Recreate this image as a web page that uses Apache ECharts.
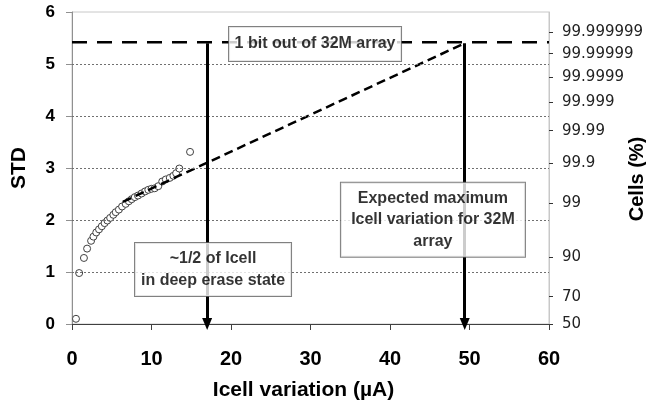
<!DOCTYPE html>
<html>
<head>
<meta charset="utf-8">
<script src="https://cdn.jsdelivr.net/npm/echarts@6/dist/echarts.min.js"></script>
<style>html,body{margin:0;padding:0;background:#fff}#c{width:646px;height:404px}</style>
</head>
<body>
<div id="c"></div>
<script>
// measured data: Icell variation (uA) vs STD
const icell = [0.5, 0.9, 1.5, 1.9, 2.4, 2.7, 3.05, 3.4, 3.75, 4.1, 4.45, 4.8, 5.2, 5.5, 5.9, 6.3, 6.75, 7.15, 7.5, 7.9, 8.3, 8.75, 9.2, 9.6, 10.0, 10.4, 10.85, 11.35, 11.8, 12.3, 12.75, 13.1, 13.5, 14.85];
const std = [0.1, 0.98, 1.27, 1.45, 1.6, 1.68, 1.76, 1.82, 1.88, 1.94, 1.99, 2.04, 2.1, 2.15, 2.2, 2.26, 2.31, 2.36, 2.4, 2.44, 2.47, 2.51, 2.55, 2.58, 2.6, 2.61, 2.65, 2.74, 2.78, 2.81, 2.85, 2.9, 2.99, 3.31];
// extrapolation trend
const trendX = [6.4, 49.4];
const trendY = [2.35, 5.4];
// 1 bit out of 32M level
const limitY = 5.42;
const limitX = [0, 60];
// arrows
const arrowX = [17, 49.4];
const arrowTop = 5.4;
const arrowBottom = 0;
// axis ticks
const xTicks = [0, 10, 20, 30, 40, 50, 60];
const yTicks = [0, 1, 2, 3, 4, 5, 6];
const gridYs = [1, 2, 3, 4, 5];
const rightTickLabels = ['50', '70', '90', '99', '99.9', '99.99', '99.999', '99.9999', '99.99999', '99.999999'];
const rightTickZ = [0, 0.5244, 1.2816, 2.3263, 3.0902, 3.7190, 4.2649, 4.7534, 5.1993, 5.6120];
// annotation boxes
const boxTexts = ['1 bit out of 32M array', '~1/2 of Icell\nin deep erase state', 'Expected maximum\nIcell variation for 32M\narray'];
const boxAt = [[30.57, 5.385], [17.74, 1.048], [45.4, 2.006]];

const bold = 'Liberation Sans, Arial, sans-serif';
const chart = echarts.init(document.getElementById('c'), null, {renderer: 'canvas'});

const boxStyles = [
  {width: 172, height: 34},
  {width: 156, height: 53},
  {width: 184, height: 74}
];

chart.setOption({
  animation: false,
  backgroundColor: '#fff',
  grid: {left: 72, right: 97, top: 12, bottom: 80, containLabel: false, outerBoundsMode: 'none', show: true, borderColor: '#c8c8c8', borderWidth: 1, backgroundColor: 'transparent'},
  xAxis: {
    type: 'value', min: xTicks[0], max: xTicks[xTicks.length - 1], interval: 10,
    name: 'Icell variation (µA)', nameLocation: 'middle', nameGap: 56, nameMoveOverlap: false,
    nameTextStyle: {fontFamily: bold, fontWeight: 'bold', fontSize: 21, color: '#000', padding: [0, 14, 0, 0]},
    axisLine: {show: true, onZero: false, lineStyle: {color: '#404040', width: 1}},
    axisTick: {show: true, length: 6, lineStyle: {color: '#404040'}},
    axisLabel: {fontFamily: bold, fontWeight: 'bold', fontSize: 20, color: '#000', margin: 25},
    splitLine: {show: false}
  },
  yAxis: [{
    type: 'value', min: yTicks[0], max: yTicks[yTicks.length - 1], interval: 1,
    name: 'STD', nameLocation: 'middle', nameGap: 42, nameRotate: 90, nameMoveOverlap: false,
    nameTextStyle: {fontFamily: bold, fontWeight: 'bold', fontSize: 21, color: '#000'},
    axisLine: {show: true, lineStyle: {color: '#909090', width: 1}},
    axisTick: {show: true, length: 6, lineStyle: {color: '#909090'}},
    axisLabel: {fontFamily: bold, fontWeight: 'bold', fontSize: 17, color: '#000', margin: 17},
    splitLine: {show: false}
  }, {
    type: 'value', position: 'right', min: 0, max: 6,
    name: 'Cells (%)', nameLocation: 'middle', nameGap: 78, nameRotate: 90, nameMoveOverlap: false,
    nameTextStyle: {fontFamily: bold, fontWeight: 'bold', fontSize: 20, color: '#000', padding: [0, 22, 0, 0]},
    axisLine: {show: true, lineStyle: {color: '#c8c8c8', width: 1}},
    axisTick: {show: true, length: 4, customValues: rightTickZ, lineStyle: {color: '#333'}},
    axisLabel: {
      customValues: rightTickZ, margin: 13, fontFamily: 'DejaVu Sans, sans-serif', fontSize: 15, color: '#222',
      formatter: function (v) {
        let best = 0;
        for (let i = 1; i < rightTickZ.length; i++) if (Math.abs(rightTickZ[i] - v) < Math.abs(rightTickZ[best] - v)) best = i;
        return rightTickLabels[best];
      }
    },
    splitLine: {show: false}
  }],
  series: [
    {
      type: 'line', data: [], z: 1, silent: true,
      markLine: {
        silent: true, symbol: ['none', 'none'], label: {show: false},
        lineStyle: {type: [2, 2], color: '#707070', width: 1},
        data: gridYs.map(v => ({yAxis: v}))
      }
    },
    {
      type: 'scatter', z: 3, silent: true,
      data: icell.map((x, i) => [x, std[i]]),
      symbol: 'circle', symbolSize: 7,
      itemStyle: {color: '#fff', borderColor: '#404040', borderWidth: 1, opacity: 1}
    },
    {
      type: 'line', z: 4, silent: true, showSymbol: false, symbol: 'none',
      data: trendX.map((x, i) => [x, trendY[i]]),
      lineStyle: {color: '#000', width: 2.5, type: [9, 5]}
    },
    {
      type: 'line', z: 4, silent: true, showSymbol: false, symbol: 'none',
      data: limitX.map(x => [x, limitY]),
      lineStyle: {color: '#000', width: 2.5, type: [15, 10]}
    },
    {
      type: 'line', z: 5, silent: true, data: [],
      markLine: {
        silent: true, symbol: ['none', 'triangle'], symbolSize: [10, 12], label: {show: false},
        lineStyle: {type: 'solid', color: '#000', width: 3},
        data: arrowX.map(x => [{coord: [x, arrowTop]}, {coord: [x, arrowBottom]}])
      }
    },
    {
      type: 'scatter', z: 10, silent: true, symbolSize: 0,
      data: boxAt.map((p, i) => ({
        value: p,
        label: {
          show: true, position: 'inside', formatter: boxTexts[i],
          fontFamily: bold, fontWeight: 'bold', fontSize: 16, color: '#000',
          lineHeight: 21.5, align: 'center', verticalAlign: 'middle',
          width: boxStyles[i].width, height: boxStyles[i].height,
          backgroundColor: '#fff', borderColor: '#606060', borderWidth: 1
        }
      }))
    }
  ]
});
</script>
</body>
</html>
